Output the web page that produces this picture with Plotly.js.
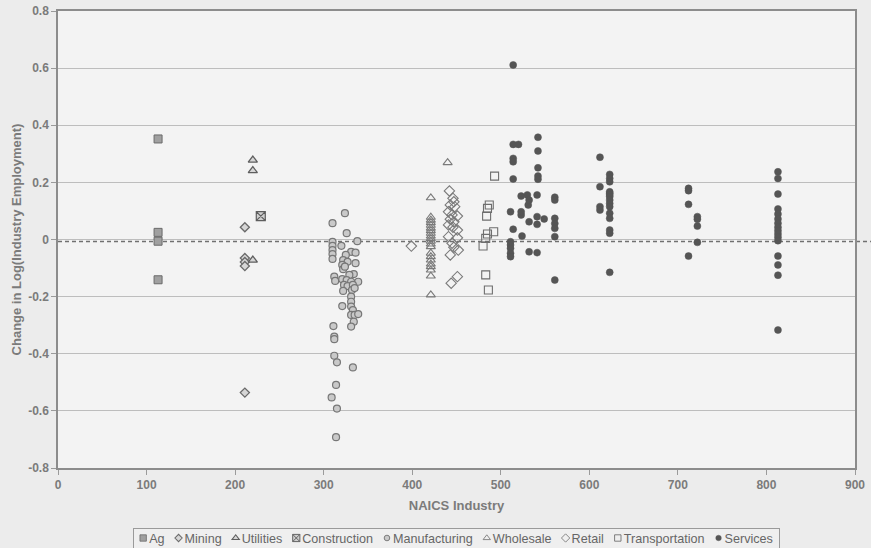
<!DOCTYPE html>
<html><head><meta charset="utf-8">
<script src="https://cdn.plot.ly/plotly-3.0.1.min.js"></script>
<style>html,body{margin:0;padding:0;background:#ececec;} #chart{width:871px;height:548px;}</style>
</head><body><div id="chart"></div>
<script>
// ---- data (NAICS code, change in log industry employment) ----
var agX = [113, 113, 113, 113];
var agY = [0.352, 0.025, -0.006, -0.141];

var miningX = [211, 211, 211, 211, 211];
var miningY = [0.043, -0.065, -0.079, -0.093, -0.536];

var utilitiesX = [220, 220, 220];
var utilitiesY = [0.278, 0.241, -0.072];

var constructionX = [229];
var constructionY = [0.082];

var manufX = [310, 324, 326, 310, 310, 310, 310, 310, 338, 320, 331, 336, 325, 322, 327, 336, 321, 322, 324, 334, 329,
              312, 313, 321, 326, 331, 339, 323, 327, 333, 322, 332, 335, 321, 331, 331, 331, 333, 331, 335, 339, 334,
              331, 311, 312, 312, 312, 315, 333, 314, 309, 315, 314];
var manufY = [0.057, 0.092, 0.022, -0.008, -0.022, -0.037, -0.051, -0.068, -0.006, -0.022, -0.043, -0.046, -0.054, -0.072, -0.078, -0.083, -0.089, -0.104, -0.095, -0.121, -0.124,
              -0.130, -0.145, -0.139, -0.142, -0.148, -0.148, -0.159, -0.163, -0.159, -0.180, -0.177, -0.170, -0.233, -0.200, -0.218, -0.235, -0.247, -0.264, -0.264, -0.261, -0.288,
              -0.305, -0.303, -0.340, -0.349, -0.407, -0.430, -0.448, -0.509, -0.553, -0.592, -0.692];

var wholesaleX = [421, 421, 421, 421, 421, 421, 421, 421, 421, 421, 421, 421, 421, 421, 421, 421, 421, 421, 421, 421, 421, 440];
var wholesaleY = [0.146, 0.078, 0.068, 0.059, 0.050, 0.040, 0.031, 0.022, 0.012, 0.003, -0.006, -0.016, -0.025, -0.048, -0.060, -0.072, -0.086, -0.095, -0.107, -0.128, -0.194, 0.269];

var retailX = [399, 442, 446, 447, 443, 448, 441, 451, 445, 443, 447, 441, 446, 451, 441, 451, 445, 447, 452, 443, 451, 444];
var retailY = [-0.023, 0.170, 0.144, 0.132, 0.121, 0.115, 0.097, 0.082, 0.086, 0.071, 0.062, 0.051, 0.043, 0.033, 0.010, 0.006, -0.013, -0.027, -0.037, -0.054, -0.130, -0.153];

var transportX = [493, 487, 485, 484, 485, 492, 483, 480, 483, 486];
var transportY = [0.222, 0.121, 0.109, 0.082, 0.019, 0.027, 0.004, -0.023, -0.124, -0.177];

var servicesX = [511, 511, 511, 511, 511, 511,
                 514, 514, 514, 514, 514, 514,
                 520, 523, 523, 523, 524, 530, 531, 532, 532, 532,
                 541, 541, 541, 541, 542, 542, 542, 542, 542, 549,
                 561, 561, 561, 561, 561, 561, 561,
                 612, 612, 612, 612,
                 623, 623, 623, 623, 623, 623, 623, 623, 623, 623, 623, 623, 623, 623, 623,
                 712, 712, 712, 712, 722, 722, 722, 722,
                 813, 813, 813, 813, 813, 813, 813, 813, 813, 813, 813, 813, 813, 813, 813, 813];
var servicesY = [-0.008, -0.019, -0.031, -0.048, -0.060, 0.097,
                 0.611, 0.333, 0.284, 0.272, 0.212, 0.036,
                 0.333, 0.152, 0.086, 0.097, 0.012, 0.156, 0.121, 0.138, 0.062, -0.043,
                 0.156, 0.080, 0.053, -0.046, 0.358, 0.310, 0.251, 0.222, 0.211, 0.072,
                 0.148, 0.138, 0.074, 0.056, 0.039, 0.010, -0.142,
                 0.288, 0.185, 0.115, 0.103,
                 0.228, 0.214, 0.202, 0.167, 0.162, 0.156, 0.150, 0.138, 0.126, 0.115, 0.092, 0.074, 0.033, 0.022, -0.115,
                 0.179, 0.171, 0.123, -0.058, 0.080, 0.071, 0.047, -0.010,
                 0.237, 0.214, 0.159, 0.107, 0.089, 0.072, 0.057, 0.043, 0.031, 0.019, 0.008, -0.004, -0.058, -0.089, -0.125, -0.317];

var meanLine = -0.007;
var xTickVals = [0, 100, 200, 300, 400, 500, 600, 700, 800, 900];
var yTickVals = [0.8, 0.6, 0.4, 0.2, 0, -0.2, -0.4, -0.6, -0.8];
var yTickText = ['0.8', '0.6', '0.4', '0.2', '0', '-0.2', '-0.4', '-0.6', '-0.8'];

// ---- chart ----
var gray = '#7b7b7b';
function mk(name, x, y, marker) {
  return {type: 'scatter', mode: 'markers', name: name, x: x, y: y, marker: marker, hoverinfo: 'skip'};
}
var traces = [
  mk('Ag', agX, agY, {symbol: 'square', size: 8, color: '#a0a0a0', line: {color: '#6a6a6a', width: 1}}),
  mk('Mining', miningX, miningY, {symbol: 'diamond', size: 7, color: '#d6d6d6', line: {color: '#6a6a6a', width: 1.3}}),
  mk('Utilities', utilitiesX, utilitiesY, {symbol: 'triangle-up', size: 8, color: '#d6d6d6', line: {color: '#5e5e5e', width: 1.3}}),
  mk('Construction', constructionX, constructionY, {symbol: 'square-x', size: 9, color: '#cfcfcf', line: {color: '#5e5e5e', width: 1.2}}),
  mk('Manufacturing', manufX, manufY, {symbol: 'circle', size: 7, color: '#c9c9c9', line: {color: '#777', width: 1.2}}),
  mk('Wholesale', wholesaleX, wholesaleY, {symbol: 'triangle-up-open', size: 8, color: '#7a7a7a', line: {width: 1.1}}),
  mk('Retail', retailX, retailY, {symbol: 'diamond-open', size: 8, color: '#7a7a7a', line: {width: 1.1}}),
  mk('Transportation', transportX, transportY, {symbol: 'square-open', size: 8, color: '#6e6e6e', line: {width: 1.1}}),
  mk('Services', servicesX, servicesY, {symbol: 'circle', size: 7, color: '#555555', line: {color: '#555555', width: 0.5}})
];

var layout = {
  width: 871, height: 548,
  paper_bgcolor: '#ececec', plot_bgcolor: '#f3f3f3',
  margin: {l: 58, r: 16, t: 11, b: 80, pad: 0},
  font: {family: 'Liberation Sans, Arial, sans-serif', color: gray, size: 12},
  showlegend: true,
  legend: {orientation: 'h', x: 0.5, xanchor: 'center', y: 0.5, yanchor: 'middle',
           bgcolor: '#efefef', bordercolor: '#9a9a9a', borderwidth: 1,
           font: {size: 12.6, color: '#666'}, itemwidth: 30},
  xaxis: {range: [0, 900], tickvals: xTickVals, showgrid: false, zeroline: false,
          showline: true, mirror: true, linecolor: '#8c8c8c', linewidth: 1.5,
          ticks: 'outside', ticklen: 5, tickcolor: '#9a9a9a',
          tickfont: {size: 12, color: gray, weight: 'bold'},
          title: {text: 'NAICS Industry', font: {size: 13, color: gray, weight: 'bold'}, standoff: 10}},
  yaxis: {range: [-0.8, 0.8], tickvals: yTickVals, ticktext: yTickText,
          showgrid: true, gridcolor: '#bdbdbd', gridwidth: 1.2,
          zeroline: true, zerolinecolor: '#bdbdbd', zerolinewidth: 1.2,
          showline: true, mirror: true, linecolor: '#8c8c8c', linewidth: 1.5,
          ticks: 'outside', ticklen: 5, tickcolor: '#9a9a9a',
          tickfont: {size: 12, color: gray, weight: 'bold'},
          title: {text: 'Change in Log(Industry Employment)', font: {size: 13, color: gray, weight: 'bold'}, standoff: 4}},
  shapes: [{type: 'line', layer: 'between', xref: 'paper', x0: 0, x1: 1.02, yref: 'y', y0: meanLine, y1: meanLine,
            line: {color: '#707070', width: 1.3, dash: '4px,3px'}}]
};

Plotly.newPlot('chart', traces, layout, {displayModeBar: false, responsive: false}).then(function (gd) {
  var leg = gd.querySelector('g.legend');
  if (!leg) return;
  var sb = leg.querySelector('g.scrollbox');
  if (sb) { sb.removeAttribute('clip-path'); sb.setAttribute('transform', 'translate(0,0)'); }
  var items = leg.querySelectorAll('g.traces');
  var TX = 26, x = -10, lastEnd = 0;
  items.forEach(function (it) {
    var t = it.querySelector('text.legendtext');
    t.setAttribute('x', TX);
    t.querySelectorAll('tspan').forEach(function (s) { if (s.hasAttribute('x')) s.setAttribute('x', TX); });
    var tw = t.getComputedTextLength();
    it.setAttribute('transform', 'translate(' + x + ',10)');
    var pts = it.querySelectorAll('path.scatterpts');
    pts.forEach(function (p) { p.setAttribute('transform', 'translate(20,0) scale(0.8)'); });
    var tg = it.querySelector('rect.legendtoggle');
    if (tg) { tg.setAttribute('x', 0); tg.setAttribute('width', TX + tw); }
    lastEnd = x + TX + tw;
    x = x + tw + 20;
  });
  var W = lastEnd + 6;
  var bg = leg.querySelector('rect.bg');
  if (bg) { bg.setAttribute('x', 0.5); bg.setAttribute('y', 0.5); bg.setAttribute('width', W); bg.setAttribute('height', 20); }
  leg.setAttribute('transform', 'translate(' + (456 - W / 2) + ',528)');
});
</script>
</body></html>
